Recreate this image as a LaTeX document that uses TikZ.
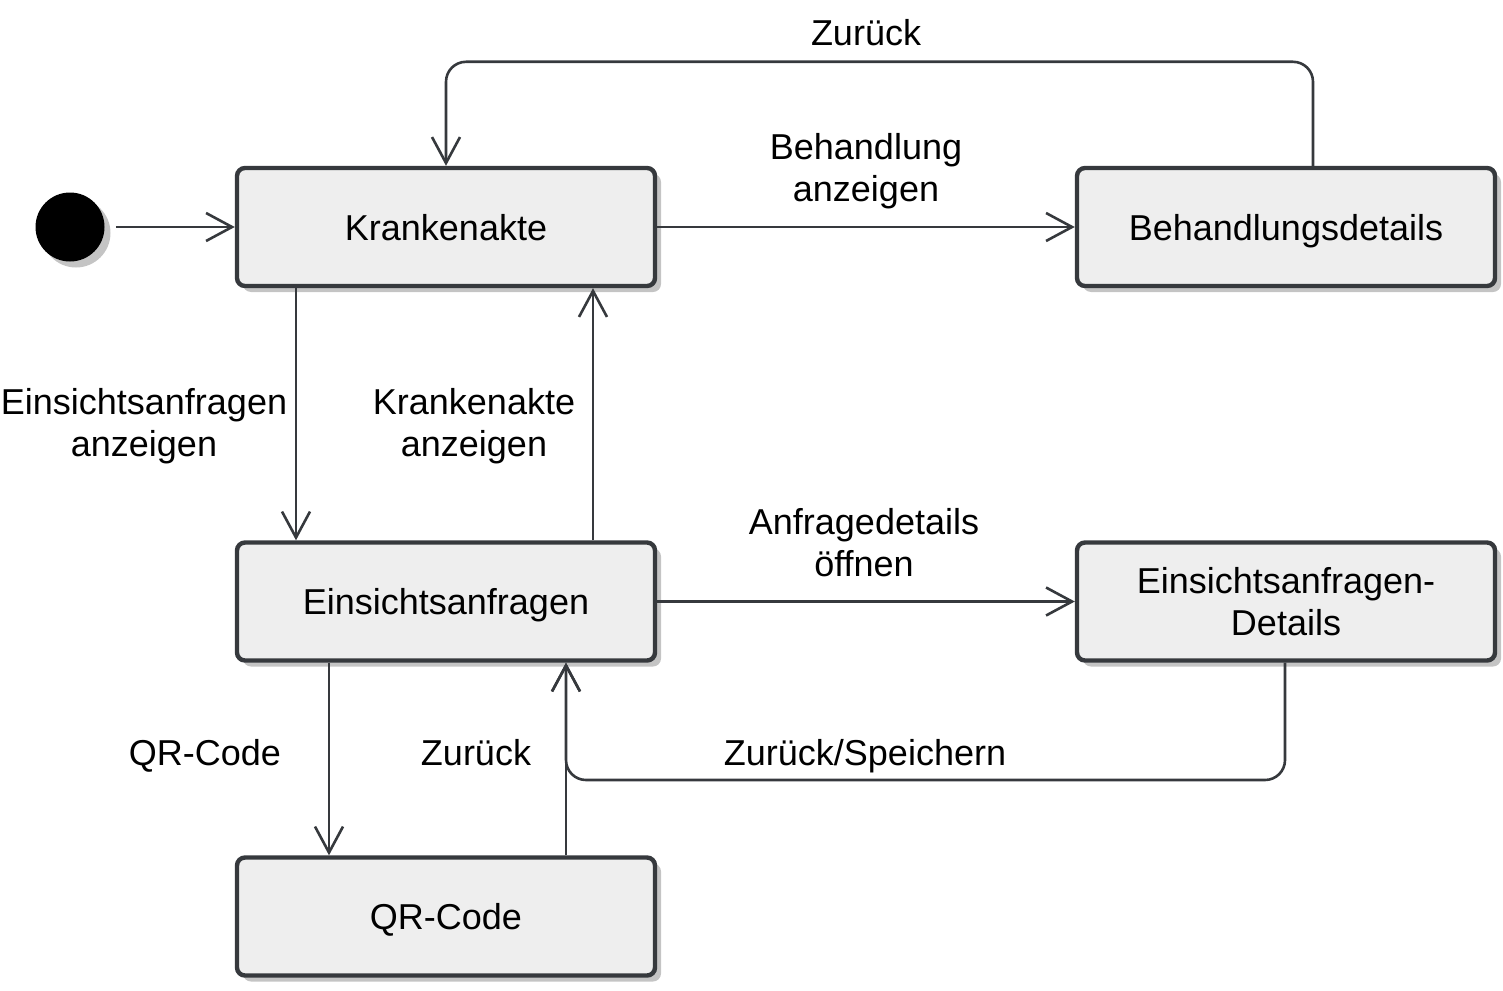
\documentclass[tikz,border=0pt]{standalone}
\usepackage{fontspec}
\setmainfont{Liberation Sans}
\usetikzlibrary{arrows.meta,shadows}
\definecolor{ln}{HTML}{36393D}
\definecolor{bx}{HTML}{EEEEEE}
\definecolor{sh}{HTML}{C4C4C4}
\begin{document}
\begin{tikzpicture}[x=0.5pt,y=-0.5pt,
  state/.style={draw=ln, line width=2.2pt, fill=bx, rounded corners=4pt,
    minimum width=209pt, minimum height=59pt, inner sep=0pt, align=center,
    font=\fontsize{18}{21}\selectfont,
    drop shadow={shadow xshift=3pt, shadow yshift=-3pt, fill=sh, opacity=1}},
  one/.style={text height=13pt, text depth=0pt},
  arr/.style={draw=ln, line width=1.3pt, -{Straight Barb[length=13pt,width=14pt]}},
  lbl/.style={font=\fontsize{18}{21}\selectfont, align=center, inner sep=0pt}]
\useasboundingbox (0,0) rectangle (1503,990);
\coordinate (c296) at (296,0);
\coordinate (c329) at (329,0);
\coordinate (c566) at (566,0);
\coordinate (c593) at (593,0);
\coordinate (c1285) at (1285,0);
\coordinate (c1313) at (1313,0);
\coordinate (c780) at (566,780);

\node[circle, fill=black, minimum size=34.5pt, inner sep=0pt,
  drop shadow={shadow xshift=3pt, shadow yshift=-3pt, fill=sh, opacity=1}] (st) at (70,227) {};
\node[state, one] (kr) at (446,227) {Krankenakte};
\node[state, one] (bd) at (1286,227) {Behandlungsdetails};
\node[state, one] (ea) at (446,601.5) {Einsichtsanfragen};
\node[state] (ed) at (1286,601.5) {Einsichtsanfragen-\\Details};
\node[state, one] (qr) at (446,916.5) {QR-Code};

\draw[arr, shorten <=5.5pt] (st) -- (kr);
\draw[arr] (kr) -- (bd);
\draw[arr, rounded corners=10pt] (bd.north -| c1313) -- ++(0,-104) -| (kr.north);
\draw[arr] (kr.south -| c296) -- (ea.north -| c296);
\draw[arr] (ea.north -| c593) -- (kr.south -| c593);
\draw[arr] (ea) -- (ed);
\draw[arr, rounded corners=10pt] (ed.south -| c1285) |- (c780) -- (ea.south -| c566);
\draw[arr] (ea.south -| c329) -- (qr.north -| c329);
\draw[arr] (qr.north -| c566) -- (ea.south -| c566);

\node[lbl, one] (l1) at (866,33) {Zurück};
\node[lbl] (l2) at (866,171) {Behandlung\\anzeigen};
\node[lbl] (l3) at (144,426) {Einsichtsanfragen\\anzeigen};
\node[lbl] (l4) at (474,426) {Krankenakte\\anzeigen};
\node[lbl] (l5) at (864,543) {Anfragedetails\\öffnen};
\node[lbl, one] (l6) at (205,752) {QR-Code};
\node[lbl, one] (l7) at (476,752) {Zurück};
\node[lbl, one] (l8) at (865,752) {Zurück/Speichern};
\end{tikzpicture}
\end{document}
